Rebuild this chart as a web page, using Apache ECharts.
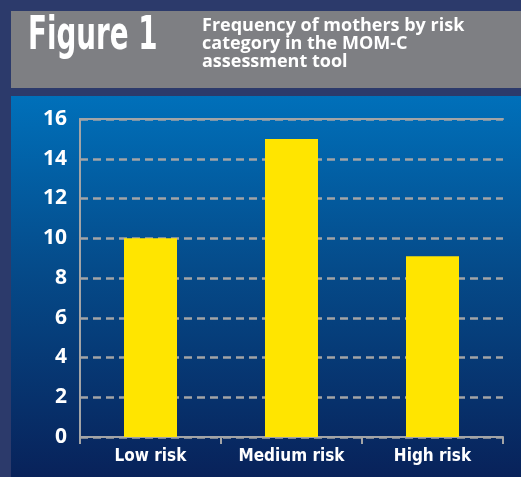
<!DOCTYPE html>
<html>
<head>
<meta charset="utf-8">
<script src="https://cdn.jsdelivr.net/npm/echarts@6/dist/echarts.min.js"></script>
<style>
html,body{margin:0;padding:0;background:#2c3a6b;}
#chart{width:521px;height:477px;}
</style>
</head>
<body>
<div id="chart"></div>
<script>
// data
let categories=['Low risk','Medium risk','High risk']
let counts=[10,15,9.1]
let titleText='Figure 1'
let subtitleLines=['Frequency of mothers by risk','category in the MOM-C','assessment tool']

let myChart=echarts.init(document.getElementById('chart'))
let axisGrey='#a3a4a6'
let option={
    backgroundColor:'#2c3a6b',
    animation:false,
    graphic:[
        {
            type:'rect',
            shape:{x:11,y:11,width:510,height:77},
            style:{fill:'#7e7f83'},
            z:-10
        },
        {
            type:'rect',
            shape:{x:11,y:96,width:510,height:381},
            style:{
                fill:new echarts.graphic.LinearGradient(0,0,0,1,[
                    {offset:0,color:'#0070ba'},
                    {offset:0.45,color:'#054b8a'},
                    {offset:1,color:'#08225a'}
                ])
            },
            z:-10
        },
        {
            type:'text',
            x:28,y:14,
            scaleX:0.67,
            style:{
                text:titleText,
                fill:'#ffffff',
                fontSize:46,
                fontWeight:'bold',
                fontFamily:'DejaVu Sans Condensed',
                shadowColor:'rgba(0,0,0,0.5)',
                shadowBlur:4,
                shadowOffsetX:1,
                shadowOffsetY:1
            }
        },
        {
            type:'text',
            x:202,y:17,
            style:{
                text:subtitleLines.join('\n'),
                fill:'#ffffff',
                fontSize:18,
                fontWeight:'bold',
                fontFamily:'Open Sans',
                lineHeight:18
            }
        }
    ],
    grid:{left:80,right:18,top:119,bottom:40},
    xAxis:[
        {
            type:'category',
            data:categories,
            axisLine:{show:true,lineStyle:{color:axisGrey,width:2}},
            axisTick:{show:true,length:7,lineStyle:{color:axisGrey,width:2}},
            axisLabel:{
                interval:0,
                color:'#ffffff',
                fontSize:17,
                fontWeight:'bold',
                fontFamily:'DejaVu Sans Condensed',
                margin:11
            }
        },
        {
            // solid line at the top of the plot
            type:'category',
            position:'top',
            data:categories,
            axisLine:{show:true,lineStyle:{color:axisGrey,width:2}},
            axisTick:{show:false},
            axisLabel:{show:false}
        }
    ],
    yAxis:{
        type:'value',
        min:0,
        max:16,
        interval:2,
        axisLine:{show:true,lineStyle:{color:axisGrey,width:2}},
        axisTick:{show:false},
        axisLabel:{
            color:'#ffffff',
            fontSize:21,
            fontWeight:'bold',
            fontFamily:'Open Sans',
            margin:13
        },
        splitLine:{
            show:true,
            lineStyle:{color:axisGrey,width:2.5,type:[8,5]}
        }
    },
    series:[
        {
            name:'Frequency',
            type:'bar',
            data:counts,
            barWidth:53,
            itemStyle:{color:'#ffe500'},
            z:5
        }
    ]
}
myChart.setOption(option)
</script>
</body>
</html>
